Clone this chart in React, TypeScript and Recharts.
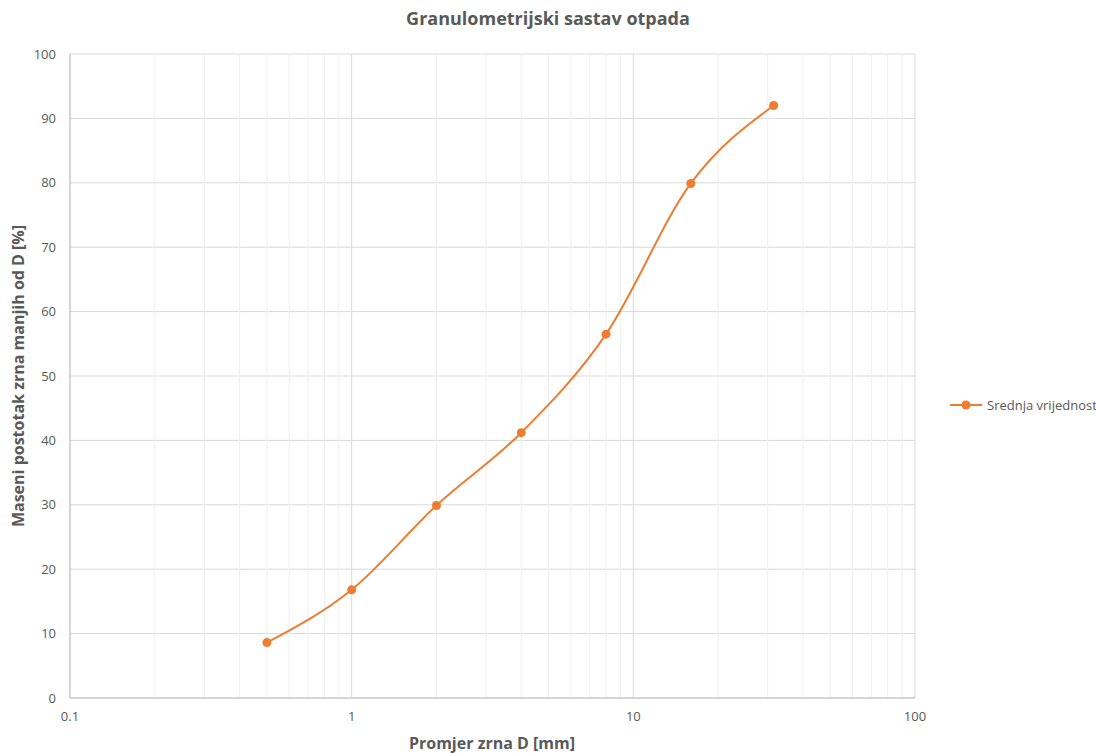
import React from 'react';
import { LineChart, Line, XAxis, YAxis, CartesianGrid, Legend, ReferenceLine } from 'recharts';

// grain size D [mm] and mass % passing
const sizes = [0.5, 1, 2, 4, 8, 16, 31.5];
const passing = [8.6, 16.8, 29.9, 41.2, 56.5, 79.9, 92.0];

const xTicks = [0.1, 1, 10, 100];
const minorTicks = [
  0.2, 0.3, 0.4, 0.5, 0.6, 0.7, 0.8, 0.9,
  2, 3, 4, 5, 6, 7, 8, 9,
  20, 30, 40, 50, 60, 70, 80, 90,
];
const yTicks = [0, 10, 20, 30, 40, 50, 60, 70, 80, 90, 100];

const seriesName = 'Srednja vrijednost';
const data = sizes.map((d, i) => ({ d, p: passing[i] }));

const FONT = '"Open Sans", "Liberation Sans", sans-serif';
const TEXT = '#595959';
const ORANGE = '#ED7D31';

const tickStyle = { fontSize: 13, fill: TEXT, fontFamily: FONT };

const LegendContent = () => (
  <div style={{ display: 'flex', alignItems: 'center', fontFamily: FONT, fontSize: 13, color: TEXT }}>
    <svg width={34} height={12} style={{ marginRight: 4 }}>
      <line x1={1} y1={6} x2={33} y2={6} stroke={ORANGE} strokeWidth={2} />
      <circle cx={17} cy={6} r={4.5} fill={ORANGE} />
    </svg>
    <span>{seriesName}</span>
  </div>
);

export default function App() {
  return (
    <div style={{ position: 'absolute', left: 0, top: 0, width: 1096, height: 753, background: 'white' }}>
      <div style={{
        position: 'absolute', left: 0, top: 6, width: 1096, textAlign: 'center',
        fontFamily: FONT, fontWeight: 700, fontSize: 18, color: TEXT,
      }}>
        Granulometrijski sastav otpada
      </div>
      <LineChart
        width={1096}
        height={753}
        data={data}
        margin={{ top: 54, right: 31, left: 0, bottom: 0 }}
      >
        {minorTicks.map((v) => (
          <ReferenceLine key={v} x={v} stroke="#efefef" strokeWidth={1} />
        ))}
        <CartesianGrid stroke="#d9d9d9" />
        <XAxis
          dataKey="d"
          type="number"
          scale="log"
          domain={[0.1, 100]}
          ticks={xTicks}
          allowDataOverflow
          height={55}
          tick={tickStyle}
          tickLine={false}
          tickSize={0}
          tickMargin={14}
          axisLine={{ stroke: '#bfbfbf' }}
          label={{
            content: () => (
              <text x={492} y={749} textAnchor="middle" fontFamily={FONT} fontSize={16} fontWeight={700} fill={TEXT}>
                Promjer zrna D [mm]
              </text>
            ),
          }}
        />
        <YAxis
          type="number"
          domain={[0, 100]}
          ticks={yTicks}
          width={70}
          tick={tickStyle}
          tickLine={false}
          tickSize={0}
          tickMargin={14}
          axisLine={{ stroke: '#bfbfbf' }}
          label={{
            content: () => (
              <text
                x={24}
                y={376}
                textAnchor="middle"
                transform="rotate(-90 24 376)"
                fontFamily={FONT}
                fontSize={16}
                fontWeight={700}
                fill={TEXT}
              >
                Maseni postotak zrna manjih od D [%]
              </text>
            ),
          }}
        />
        <Legend
          layout="horizontal"
          verticalAlign="middle"
          align="right"
          content={<LegendContent />}
          wrapperStyle={{ left: 949, top: 396, width: 150, height: 20 }}
        />
        <Line
          type="monotone"
          dataKey="p"
          name={seriesName}
          stroke={ORANGE}
          strokeWidth={2}
          dot={{ r: 4.5, fill: ORANGE, stroke: ORANGE, strokeWidth: 0 }}
          activeDot={false}
          isAnimationActive={false}
        />
      </LineChart>
    </div>
  );
}
